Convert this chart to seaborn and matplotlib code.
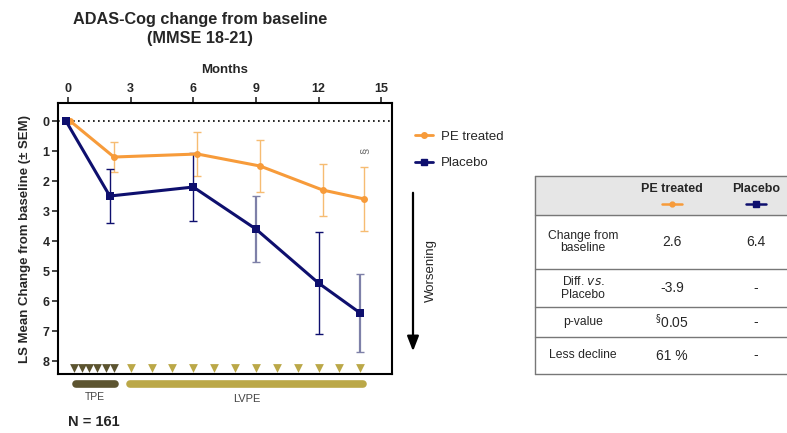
import numpy as np
import matplotlib
matplotlib.use("Agg")
import matplotlib.pyplot as plt
import pandas as pd
import seaborn as sns
from matplotlib.lines import Line2D

# data
months = [0, 2, 6, 9, 12, 14]
pe_mean = [0, 1.2, 1.1, 1.5, 2.3, 2.6]
pe_sem = [0, 0.5, 0.72, 0.88, 0.88, 1.06]
pbo_mean = [0, 2.5, 2.2, 3.6, 5.4, 6.4]
pbo_sem = [0, 0.89, 1.12, 1.1, 1.7, 1.3]

tpe_visits = [0.3, 0.65, 1.0, 1.4, 1.8, 2.2]
lvpe_visits = [3, 4, 5, 6, 7, 8, 9, 10, 11, 12, 13, 14]
tpe_span = [0.36, 2.25]
lvpe_span = [2.98, 14.12]

table_cols = ["PE treated", "Placebo"]
table_rows = ["Change from\nbaseline", "Diff. $\\it{vs.}$\nPlacebo", "p-value", "Less decline"]
table_pe = ["2.6", "-3.9", "$^{\\S}$0.05", "61 %"]
table_pbo = ["6.4", "-", "-", "-"]

ORANGE = "#F79B3A"
ORANGE_LT = "#F6BC72"
NAVY = "#0E0F6E"
NAVY_LT = "#7E80A8"
OLIVE_DK = "#5C5430"
OLIVE_LT = "#BBA848"

sns.set_style("white")
plt.rcParams["font.family"] = ["Liberation Sans", "DejaVu Sans"]

df = pd.DataFrame({
    "month": months * 2,
    "change": pe_mean + pbo_mean,
    "sem": pe_sem + pbo_sem,
    "group": ["PE treated"] * len(months) + ["Placebo"] * len(months),
})
# small horizontal dodge so the two series don't overlap
df["x"] = df["month"] + np.where(df["group"] == "PE treated", 0.2, 0.0)
df.loc[df["month"] == 0, "x"] = df.loc[df["month"] == 0, "x"] - 0.1

fig = plt.figure(figsize=(7.87, 4.33), dpi=100)
ax = fig.add_axes([58 / 787, 1 - 374 / 433, 334 / 787, 271 / 433])

pe = df[df["group"] == "PE treated"]
pb = df[df["group"] == "Placebo"]

ax.errorbar(pe["x"][1:], pe["change"][1:], yerr=pe["sem"][1:], fmt="none",
            ecolor=ORANGE_LT, elinewidth=1.0, capsize=3, capthick=1.0, zorder=2)
pb_err_cols = [NAVY, NAVY, NAVY_LT, NAVY, NAVY_LT]
for (xx, yy, ee), c in zip(zip(pb["x"][1:], pb["change"][1:], pb["sem"][1:]), pb_err_cols):
    ax.errorbar([xx], [yy], yerr=[ee], fmt="none", ecolor=c,
                elinewidth=1.0 if c == NAVY else 1.6, capsize=3, capthick=1.0, zorder=2)

sns.lineplot(data=pe, x="x", y="change", color=ORANGE, lw=2.2, marker="o",
             markersize=5, markeredgewidth=0, ax=ax, zorder=3)
sns.lineplot(data=pb, x="x", y="change", color=NAVY, lw=2.2, marker="s",
             markersize=6, markeredgewidth=0, ax=ax, zorder=4)

ax.axhline(0, color="black", ls=(0, (1, 2)), lw=1.2, zorder=1)

# visit markers
ax.scatter(tpe_visits, [8.22] * len(tpe_visits), marker="v", s=40,
           color=OLIVE_DK, linewidths=0, zorder=3)
ax.scatter(lvpe_visits, [8.22] * len(lvpe_visits), marker="v", s=40,
           color=OLIVE_LT, linewidths=0, zorder=3)

# treatment phase bars under the axes
ax.plot(tpe_span, [8.77, 8.77], color=OLIVE_DK, lw=5.5, solid_capstyle="round", clip_on=False)
ax.plot(lvpe_span, [8.77, 8.77], color=OLIVE_LT, lw=5.5, solid_capstyle="round", clip_on=False)
ax.text(np.mean(tpe_span), 9.18, "TPE", ha="center", va="center", fontsize=7.5, color="#444444")
ax.text(np.mean(lvpe_span), 9.27, "LVPE", ha="center", va="center", fontsize=8, color="#444444")

ax.text(14.2, 0.98, "§", rotation=90, ha="center", va="center", fontsize=8, color="#666666")

ax.set_xlim(-0.48, 15.52)
ax.set_ylim(8.43, -0.6)
ax.xaxis.tick_top()
ax.xaxis.set_label_position("top")
ax.set_xticks([0, 3, 6, 9, 12, 15])
ax.set_yticks(range(0, 9))
ax.tick_params(axis="both", direction="out", length=4, width=1.2, labelsize=9, pad=2,
               top=True, left=True, bottom=False)
for lab in ax.get_xticklabels() + ax.get_yticklabels():
    lab.set_fontweight("bold")
ax.set_xlabel("Months", fontsize=9.5, fontweight="bold", labelpad=7)
ax.set_ylabel("LS Mean Change from baseline (\u00b1 SEM)", fontsize=9.5,
              fontweight="bold", labelpad=8)
for s in ax.spines.values():
    s.set_linewidth(1.5)
    s.set_color("black")
if ax.get_legend():
    ax.get_legend().remove()

fig.text(200 / 787, 1 - 29 / 433, "ADAS-Cog change from baseline\n(MMSE 18-21)",
         ha="center", va="center", fontsize=11.7, fontweight="bold", linespacing=1.3)
fig.text(68 / 787, 1 - 422 / 433, "N = 161", ha="left", va="center",
         fontsize=10.5, fontweight="bold")

# legend
handles = [Line2D([], [], color=ORANGE, lw=2, marker="o", markersize=4),
           Line2D([], [], color=NAVY, lw=2, marker="s", markersize=4)]
fig.legend(handles, ["PE treated", "Placebo"], loc="upper left",
           bbox_to_anchor=(403 / 787, 1 - 119 / 433), frameon=False, fontsize=9.5,
           handlelength=1.4, handletextpad=0.6, labelspacing=1.05)

# overlay axes in pixel coords for the arrow and the table
ov = fig.add_axes([0, 0, 1, 1])
ov.set_xlim(0, 787)
ov.set_ylim(433, 0)
ov.axis("off")
ov.annotate("", xy=(413, 354), xytext=(413, 190),
            arrowprops=dict(arrowstyle="-|>,head_width=0.35,head_length=0.9",
                            color="black", lw=1.6))
ov.text(431, 270, "Worsening", rotation=90, ha="center", va="center", fontsize=9.5)

row_lines = [176, 215, 269, 307, 337, 374]
ov.add_patch(plt.Rectangle((535, 176), 260, 39, color="#E6E6E6", zorder=0))
for yl in row_lines:
    ov.plot([535, 787], [yl, yl], color="#777777", lw=1)
ov.plot([535, 535], [176, 374], color="#777777", lw=1)

col_x = [672, 756]
for cx, name in zip(col_x, table_cols):
    ov.text(cx, 189, name, ha="center", va="center", fontsize=9, fontweight="bold")
ov.plot([662, 682], [204, 204], color=ORANGE, lw=1.8)
ov.plot([672], [204], color=ORANGE, marker="o", markersize=3.5)
ov.plot([746, 766], [204, 204], color=NAVY, lw=1.8)
ov.plot([756], [204], color=NAVY, marker="s", markersize=4)

for i, (lab, v1, v2) in enumerate(zip(table_rows, table_pe, table_pbo)):
    yc = (row_lines[i + 1] + row_lines[i + 2]) / 2
    ov.text(583, yc, lab, ha="center", va="center", fontsize=8.7, linespacing=1.1)
    ov.text(col_x[0], yc, v1, ha="center", va="center", fontsize=10)
    ov.text(col_x[1], yc, v2, ha="center", va="center", fontsize=10)

fig.savefig("out.png", dpi=100)
